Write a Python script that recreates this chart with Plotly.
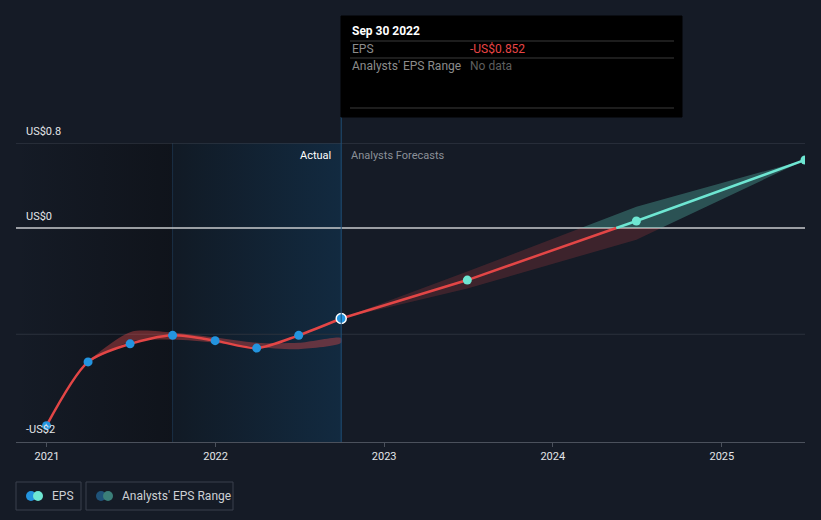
import numpy as np
import pandas as pd
import plotly.graph_objects as go

# ---------------- data ----------------
hist_dates = ["2020-12-31", "2021-03-31", "2021-06-30", "2021-09-30",
              "2021-12-31", "2022-03-31", "2022-06-30", "2022-09-30"]
hist_eps = [-1.86, -1.26, -1.09, -1.01, -1.06, -1.13, -1.01, -0.852]

past_range_dates = ["2021-03-31", "2021-06-30", "2021-09-30", "2021-12-31",
                    "2022-03-31", "2022-06-30", "2022-09-30"]
past_high = [-1.26, -0.98, -0.985, -1.03, -1.08, -1.08, -1.035]
past_low = [-1.26, -1.07, -1.05, -1.08, -1.12, -1.14, -1.08]

fc_dates = ["2022-09-30", "2023-06-30", "2024-06-30", "2025-06-30"]
fc_eps = [-0.852, -0.49, 0.066, 0.64]
fc_high = [-0.852, -0.41, 0.20, 0.64]
fc_low = [-0.852, -0.57, -0.11, 0.64]

x_tick_vals = ["2021-01-01", "2022-01-01", "2023-01-01", "2024-01-01", "2025-01-01"]
x_tick_text = ["2021", "2022", "2023", "2024", "2025"]
y_grid_vals = [0.8, 0, -1]
y_label_vals = [0.8, 0, -2]
y_label_text = ["US$0.8", "US$0", "-US$2"]

actual_start = "2021-09-30"
actual_end = "2022-09-30"

X_RANGE = ["2020-10-26", "2025-06-30"]
Y_RANGE = [-2.014, 0.8]

# ---------------- layout geometry ----------------
W_FIG, H_FIG = 821, 520
L, R, T, B = 16, 16, 143, 78
PW = W_FIG - L - R
PH = H_FIG - T - B


def px_x(p):
    return (p - L) / PW


def px_y(p):
    return (H_FIG - B - p) / PH


BG = "#151b26"
RED = "#e34646"
TEAL = "#6ee6d2"
BLUE = "#2394df"
FONT = "Roboto"


def to_num(dates):
    return pd.to_datetime(pd.Series(dates)).astype("int64").to_numpy().astype(float)


def to_dates(nums):
    return pd.to_datetime(np.asarray(nums).astype("int64"))


def insert_zero(xn, yn):
    xs, ys = [xn[0]], [yn[0]]
    for i in range(1, len(xn)):
        y0, y1 = yn[i - 1], yn[i]
        if (y0 < 0 < y1) or (y1 < 0 < y0):
            t = y0 / (y0 - y1)
            xs.append(xn[i - 1] + t * (xn[i] - xn[i - 1]))
            ys.append(0.0)
        xs.append(xn[i])
        ys.append(yn[i])
    return np.array(xs), np.array(ys)


traces = []

# shaded regions
traces.append(go.Scatter(
    x=[X_RANGE[0], actual_start, actual_start, X_RANGE[0], X_RANGE[0]],
    y=[Y_RANGE[0], Y_RANGE[0], Y_RANGE[1], Y_RANGE[1], Y_RANGE[0]],
    fill="toself", mode="lines", line=dict(width=0),
    fillgradient=dict(type="horizontal",
                      colorscale=[[0, "rgba(10,12,16,0.0)"], [1, "rgba(10,12,16,0.5)"]]),
    hoverinfo="skip", showlegend=False))
traces.append(go.Scatter(
    x=[actual_start, actual_end, actual_end, actual_start, actual_start],
    y=[Y_RANGE[0], Y_RANGE[0], Y_RANGE[1], Y_RANGE[1], Y_RANGE[0]],
    fill="toself", mode="lines", line=dict(width=0),
    fillgradient=dict(type="horizontal",
                      colorscale=[[0, "#111a25"], [1, "#122a40"]]),
    hoverinfo="skip", showlegend=False))
traces.append(go.Scatter(x=[actual_start, actual_start], y=Y_RANGE, mode="lines",
                         line=dict(color="#1a2f45", width=1), hoverinfo="skip", showlegend=False))

# gridlines
grid_colors = {0.8: "#3a414d", 0: "#c9cbce", -1: "#2b323d"}
grid_widths = {0.8: 1, 0: 1.5, -1: 1}
for gv in y_grid_vals:
    traces.append(go.Scatter(x=X_RANGE, y=[gv, gv], mode="lines",
                             line=dict(color=grid_colors[gv], width=grid_widths[gv]),
                             hoverinfo="skip", showlegend=False))

# past analysts range band
traces.append(go.Scatter(
    x=past_range_dates + past_range_dates[::-1],
    y=past_high + past_low[::-1],
    fill="toself", mode="lines", line=dict(width=0, shape="spline", smoothing=0.8),
    fillcolor="rgba(224,72,72,0.40)", hoverinfo="skip", showlegend=False))

# forecast band split at zero
fxn = to_num(fc_dates)
hx, hy = insert_zero(fxn, np.array(fc_high))
lx, ly = insert_zero(fxn, np.array(fc_low))
for fn, col in [(np.minimum, "rgba(224,72,72,0.20)"), (np.maximum, "rgba(95,211,192,0.30)")]:
    bx = np.concatenate([hx, lx[::-1]])
    by = np.concatenate([fn(hy, 0), fn(ly, 0)[::-1]])
    traces.append(go.Scatter(x=to_dates(bx), y=by, fill="toself", mode="lines",
                             line=dict(width=0), fillcolor=col,
                             hoverinfo="skip", showlegend=False))

# historical EPS line
traces.append(go.Scatter(x=hist_dates, y=hist_eps, mode="lines",
                         line=dict(color=RED, width=2.5, shape="spline", smoothing=0.8),
                         hoverinfo="skip", showlegend=False))

# forecast EPS line split at zero
ex, ey = insert_zero(fxn, np.array(fc_eps))
neg = ey <= 0
pos = ey >= 0
traces.append(go.Scatter(x=to_dates(ex[neg]), y=ey[neg], mode="lines",
                         line=dict(color=RED, width=2.5), hoverinfo="skip", showlegend=False))
traces.append(go.Scatter(x=to_dates(ex[pos]), y=ey[pos], mode="lines",
                         line=dict(color=TEAL, width=2.5), hoverinfo="skip", showlegend=False))

# markers
traces.append(go.Scatter(x=hist_dates[:-1], y=hist_eps[:-1], mode="markers",
                         marker=dict(color=BLUE, size=9), hoverinfo="skip", showlegend=False))
traces.append(go.Scatter(x=fc_dates[1:], y=fc_eps[1:], mode="markers",
                         marker=dict(color=TEAL, size=9), hoverinfo="skip", showlegend=False))
traces.append(go.Scatter(x=hist_dates[-1:], y=hist_eps[-1:], mode="markers",
                         marker=dict(color=BLUE, size=10, line=dict(color="white", width=1.5)),
                         hoverinfo="skip", showlegend=False))

annotations = []
for v, t in zip(y_label_vals, y_label_text):
    annotations.append(dict(x=px_x(24), xref="paper", y=v, yref="y", text=t,
                            xanchor="left", yanchor="bottom", yshift=3, showarrow=False,
                            font=dict(family=FONT, size=11, color="#e3e5e8")))
annotations.append(dict(x=actual_end, xref="x", y=px_y(155), yref="paper", text="Actual",
                        xanchor="right", yanchor="middle", xshift=-8, showarrow=False,
                        font=dict(family=FONT, size=11, color="#ffffff")))
annotations.append(dict(x=actual_end, xref="x", y=px_y(155), yref="paper",
                        text="Analysts Forecasts", xanchor="left", yanchor="middle", xshift=8,
                        showarrow=False, font=dict(family=FONT, size=11, color="#8b9098")))

shapes = []
# hover vertical line
shapes.append(dict(type="line", xref="x", yref="paper", x0=actual_end, x1=actual_end,
                   y0=0, y1=px_y(117), line=dict(color="#1f4e76", width=1), layer="above"))
# tooltip box
shapes.append(dict(type="rect", xref="paper", yref="paper", x0=px_x(341), x1=px_x(682),
                   y0=px_y(117), y1=px_y(16), fillcolor="black",
                   line=dict(color="black", width=1), layer="above"))
for yy in [41, 58, 108]:
    shapes.append(dict(type="line", xref="paper", yref="paper", x0=px_x(350), x1=px_x(674),
                       y0=px_y(yy), y1=px_y(yy), line=dict(color="#3a3a3a", width=1),
                       layer="above"))
tip = [("<b>Sep 30 2022</b>", 350, 31, "#ffffff", 12),
       ("EPS", 350, 49, "#8c8c8c", 12),
       ("-US$0.852", 468, 49, "#e84545", 12),
       ("Analysts' EPS Range", 350, 66, "#8c8c8c", 12),
       ("No data", 468, 66, "#5e5e5e", 12)]
for t, xx, yy, c, fs in tip:
    annotations.append(dict(x=px_x(xx), y=px_y(yy), xref="paper", yref="paper", text=t,
                            xanchor="left", yanchor="middle", showarrow=False,
                            font=dict(family=FONT, size=fs, color=c)))

# legend
legend_items = [("EPS", 16, 81, BLUE, TEAL), ("Analysts' EPS Range", 86, 233, "#1f5379", "#3b7f79")]
for name, xa, xb, c1, c2 in legend_items:
    shapes.append(dict(type="rect", xref="paper", yref="paper", x0=px_x(xa), x1=px_x(xb),
                       y0=px_y(510), y1=px_y(482), line=dict(color="#3b414c", width=1),
                       fillcolor="rgba(0,0,0,0)"))
    for cx, c in [(xa + 15, c1), (xa + 22, c2)]:
        shapes.append(dict(type="circle", xref="paper", yref="paper",
                           xsizemode="pixel", ysizemode="pixel",
                           xanchor=px_x(cx), yanchor=px_y(496),
                           x0=-5, x1=5, y0=-5, y1=5, fillcolor=c, line=dict(width=0)))
    annotations.append(dict(x=px_x(xa + 34), y=px_y(496), xref="paper", yref="paper",
                            text=name, xanchor="left", yanchor="middle", showarrow=False,
                            font=dict(family=FONT, size=12, color="#cdd0d4")))

layout = go.Layout(
    width=W_FIG, height=H_FIG,
    margin=dict(l=L, r=R, t=T, b=B),
    paper_bgcolor=BG, plot_bgcolor=BG,
    showlegend=False,
    annotations=annotations, shapes=shapes,
    hovermode=False,
    xaxis=dict(type="date", range=X_RANGE, showgrid=False, zeroline=False,
               tickvals=x_tick_vals, ticktext=x_tick_text,
               ticks="outside", ticklen=4, tickcolor="#4b515c",
               showline=True, linecolor="#4b515c", linewidth=1,
               tickfont=dict(family=FONT, size=11, color="#e3e5e8")),
    yaxis=dict(range=Y_RANGE, showgrid=False, zeroline=False, showticklabels=False,
               showline=False),
)

fig = go.Figure(data=traces, layout=layout)
fig.write_html("out.html")
